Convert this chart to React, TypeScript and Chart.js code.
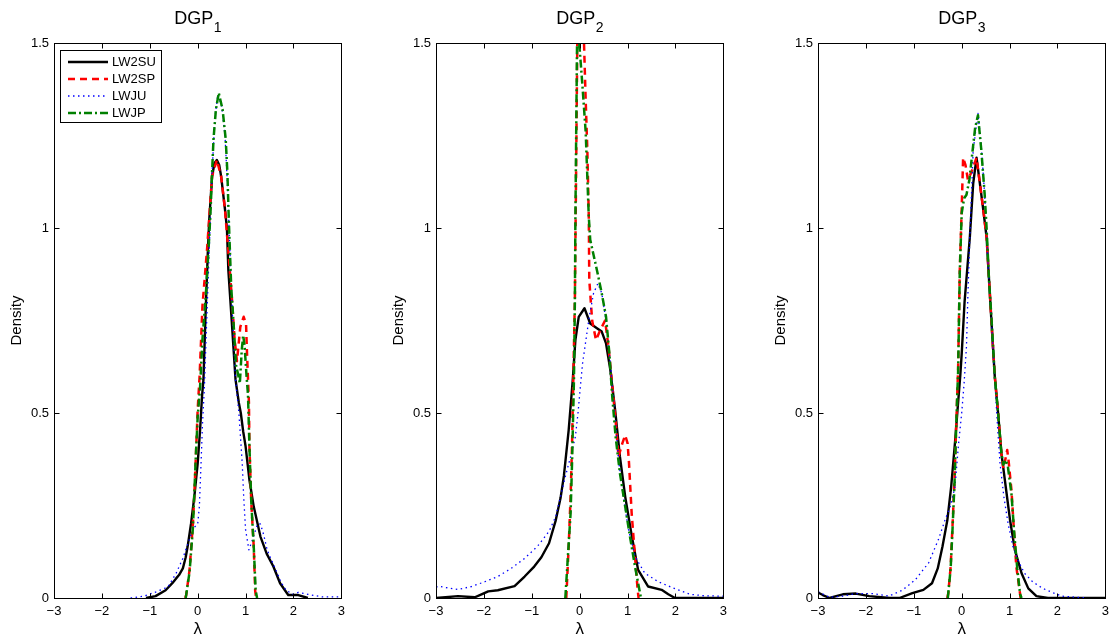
import React, { useEffect, useRef } from "react";
import { Chart, registerables } from "chart.js";

Chart.register(...registerables);

// ---------- labels / ticks ----------
const xTickValues = [-3, -2, -1, 0, 1, 2, 3];
const yTickValues = [0, 0.5, 1, 1.5];
const seriesLabels = ["LW2SU", "LW2SP", "LWJU", "LWJP"];
const titleBase = "DGP";
const panelSubscripts = ["1", "2", "3"];
const yAxisLabel = "Density";
const xAxisLabel = "λ";

// ---------- DGP 1 ----------
const dgp1_LW2SU_x = [-1.08, -0.88, -0.67, -0.53, -0.45, -0.39, -0.31, -0.25, -0.21, -0.14, -0.07, 0.0, 0.05, 0.09, 0.12, 0.16, 0.21, 0.24, 0.3, 0.35, 0.4, 0.45, 0.49, 0.57, 0.61, 0.64, 0.71, 0.79, 0.86, 0.9, 0.95, 1.0, 1.08, 1.17, 1.31, 1.44, 1.58, 1.72, 1.89, 2.1, 2.3];
const dgp1_LW2SU_y = [0, 0.005, 0.021, 0.04, 0.053, 0.062, 0.08, 0.11, 0.139, 0.2, 0.274, 0.364, 0.454, 0.544, 0.59, 0.751, 0.93, 1.02, 1.139, 1.175, 1.184, 1.17, 1.139, 1.05, 1.0, 0.886, 0.75, 0.59, 0.527, 0.5, 0.45, 0.41, 0.319, 0.247, 0.166, 0.12, 0.085, 0.04, 0.008, 0.008, 0];

const dgp1_LW2SP_x = [-0.26, -0.24, -0.17, -0.1, -0.07, -0.03, 0.0, 0.04, 0.1, 0.2, 0.3, 0.4, 0.49, 0.57, 0.65, 0.72, 0.77, 0.82, 0.89, 0.96, 1.01, 1.03, 1.07, 1.08, 1.12, 1.17, 1.2, 1.22];
const dgp1_LW2SP_y = [0, 0.008, 0.076, 0.2, 0.28, 0.41, 0.51, 0.6, 0.79, 0.95, 1.14, 1.184, 1.139, 1.05, 0.92, 0.8, 0.7, 0.64, 0.733, 0.76, 0.74, 0.66, 0.527, 0.41, 0.256, 0.139, 0.02, 0];

const dgp1_LWJU_x = [-1.4, -1.13, -0.86, -0.62, -0.45, -0.31, -0.17, -0.08, 0.0, 0.035, 0.07, 0.1, 0.14, 0.18, 0.23, 0.3, 0.36, 0.42, 0.5, 0.57, 0.62, 0.66, 0.7, 0.74, 0.79, 0.86, 0.93, 0.96, 1.0, 1.07, 1.15, 1.25, 1.31, 1.38, 1.45, 1.55, 1.65, 1.75, 1.85, 2.0, 2.1, 2.3, 2.6, 3.0];
const dgp1_LWJU_y = [0, 0.005, 0.017, 0.03, 0.067, 0.107, 0.16, 0.19, 0.2, 0.247, 0.364, 0.47, 0.57, 0.72, 0.9, 1.15, 1.3, 1.36, 1.33, 1.25, 1.12, 0.98, 0.85, 0.72, 0.59, 0.5, 0.364, 0.274, 0.184, 0.13, 0.16, 0.2, 0.2, 0.17, 0.13, 0.1, 0.07, 0.04, 0.02, 0.01, 0.015, 0.01, 0.003, 0.003];

const dgp1_LWJP_x = [-0.25, -0.17, -0.1, -0.04, 0.0, 0.05, 0.1, 0.17, 0.23, 0.27, 0.3, 0.33, 0.38, 0.44, 0.52, 0.585, 0.62, 0.65, 0.7, 0.76, 0.8, 0.85, 0.88, 0.92, 0.95, 0.98, 1.02, 1.05, 1.08, 1.12, 1.17, 1.21, 1.24];
const dgp1_LWJP_y = [0, 0.07, 0.19, 0.38, 0.49, 0.57, 0.7, 0.82, 0.95, 1.05, 1.15, 1.24, 1.32, 1.365, 1.32, 1.24, 1.15, 1.02, 0.84, 0.72, 0.63, 0.6, 0.58, 0.67, 0.71, 0.68, 0.6, 0.55, 0.41, 0.256, 0.139, 0.02, 0];

// ---------- DGP 2 ----------
const dgp2_LW2SU_x = [-3.0, -2.54, -2.19, -2.05, -1.91, -1.71, -1.36, -1.15, -0.95, -0.8, -0.64, -0.5, -0.4, -0.33, -0.23, -0.145, -0.09, -0.02, 0.1, 0.22, 0.36, 0.46, 0.55, 0.64, 0.74, 0.84, 0.95, 1.09, 1.22, 1.43, 1.71, 1.85, 1.99, 3.0];
const dgp2_LW2SU_y = [0, 0.005, 0.002, 0.01, 0.018, 0.021, 0.032, 0.058, 0.085, 0.11, 0.148, 0.21, 0.27, 0.33, 0.454, 0.589, 0.697, 0.76, 0.783, 0.742, 0.729, 0.72, 0.688, 0.616, 0.508, 0.382, 0.274, 0.166, 0.076, 0.031, 0.022, 0.01, 0, 0];

const dgp2_LW2SP_x = [-0.28, -0.23, -0.19, -0.16, -0.14, -0.12, -0.1, -0.09, -0.08, -0.05, -0.02, 0.03, 0.09, 0.125, 0.16, 0.19, 0.2, 0.26, 0.34, 0.43, 0.53, 0.6, 0.67, 0.75, 0.81, 0.89, 0.95, 1.0, 1.03, 1.085, 1.155, 1.21, 1.23];
const dgp2_LW2SP_y = [0, 0.139, 0.274, 0.41, 0.544, 0.68, 0.81, 0.95, 1.08, 1.5, 1.9, 1.78, 1.5, 1.346, 1.21, 1.03, 0.86, 0.75, 0.697, 0.724, 0.75, 0.68, 0.589, 0.48, 0.382, 0.418, 0.44, 0.418, 0.364, 0.229, 0.112, 0.022, 0];

const dgp2_LWJU_x = [-3.0, -2.92, -2.54, -2.26, -1.98, -1.71, -1.43, -1.15, -0.88, -0.64, -0.5, -0.4, -0.3, -0.19, -0.09, -0.035, 0.014, 0.06, 0.12, 0.2, 0.29, 0.38, 0.46, 0.55, 0.64, 0.74, 0.82, 0.91, 1.02, 1.155, 1.36, 1.64, 1.99, 2.3, 2.6, 3.0];
const dgp2_LWJU_y = [0.03, 0.031, 0.023, 0.031, 0.044, 0.058, 0.08, 0.107, 0.14, 0.18, 0.22, 0.274, 0.328, 0.382, 0.436, 0.5, 0.571, 0.634, 0.688, 0.76, 0.824, 0.85, 0.824, 0.75, 0.634, 0.49, 0.364, 0.274, 0.184, 0.112, 0.067, 0.044, 0.025, 0.01, 0.006, 0.005];

const dgp2_LWJP_x = [-0.3, -0.19, -0.16, -0.12, -0.1, -0.09, -0.07, -0.04, -0.01, 0.06, 0.125, 0.19, 0.22, 0.36, 0.46, 0.55, 0.62, 0.68, 0.75, 0.84, 0.95, 1.05, 1.155, 1.26, 1.28];
const dgp2_LWJP_y = [0, 0.229, 0.364, 0.589, 0.81, 1.02, 1.3, 1.7, 1.5, 1.38, 1.26, 1.03, 0.968, 0.886, 0.824, 0.76, 0.66, 0.544, 0.436, 0.337, 0.247, 0.166, 0.085, 0.013, 0];

// ---------- DGP 3 ----------
const dgp3_LW2SU_x = [-3.0, -2.9, -2.76, -2.48, -2.21, -1.93, -1.5, -1.3, -1.03, -0.8, -0.62, -0.5, -0.4, -0.3, -0.22, -0.14, -0.08, -0.03, 0.0, 0.06, 0.17, 0.24, 0.31, 0.38, 0.45, 0.52, 0.62, 0.69, 0.76, 0.83, 0.92, 1.01, 1.11, 1.25, 1.39, 1.56, 1.8, 3.0];
const dgp3_LW2SU_y = [0.015, 0.008, 0, 0.01, 0.012, 0.005, 0, 0, 0.013, 0.022, 0.04, 0.08, 0.14, 0.21, 0.3, 0.42, 0.52, 0.6, 0.66, 0.8, 0.975, 1.12, 1.19, 1.12, 1.05, 0.975, 0.75, 0.6, 0.5, 0.39, 0.3, 0.21, 0.13, 0.067, 0.026, 0.005, 0, 0];

const dgp3_LW2SP_x = [-0.3, -0.28, -0.23, -0.19, -0.15, -0.12, -0.09, -0.075, -0.04, 0.0, 0.03, 0.08, 0.13, 0.2, 0.31, 0.38, 0.45, 0.52, 0.62, 0.69, 0.76, 0.83, 0.87, 0.92, 0.95, 0.98, 1.04, 1.09, 1.14, 1.21, 1.23];
const dgp3_LW2SP_y = [0, 0.013, 0.085, 0.2, 0.319, 0.445, 0.562, 0.616, 0.886, 1.05, 1.19, 1.17, 1.13, 1.15, 1.19, 1.12, 1.05, 0.975, 0.75, 0.6, 0.5, 0.39, 0.35, 0.38, 0.4, 0.37, 0.29, 0.184, 0.085, 0.02, 0];

const dgp3_LWJU_x = [-3.0, -2.76, -2.48, -2.21, -1.86, -1.52, -1.24, -0.97, -0.69, -0.48, -0.35, -0.24, -0.14, -0.07, 0.0, 0.05, 0.1, 0.13, 0.17, 0.24, 0.34, 0.41, 0.48, 0.55, 0.62, 0.7, 0.75, 0.8, 0.88, 0.97, 1.07, 1.17, 1.31, 1.48, 1.69, 1.93, 2.1, 2.62];
const dgp3_LWJU_y = [0.017, 0.002, 0.005, 0.012, 0.012, 0.005, 0.021, 0.049, 0.095, 0.16, 0.21, 0.247, 0.3, 0.41, 0.5, 0.58, 0.68, 0.82, 0.975, 1.21, 1.31, 1.22, 1.09, 0.9, 0.75, 0.57, 0.46, 0.364, 0.274, 0.2, 0.139, 0.103, 0.067, 0.044, 0.026, 0.013, 0.005, 0];

const dgp3_LWJP_x = [-0.29, -0.23, -0.19, -0.15, -0.12, -0.09, -0.075, -0.04, 0.0, 0.05, 0.1, 0.16, 0.22, 0.28, 0.34, 0.41, 0.48, 0.52, 0.57, 0.62, 0.69, 0.76, 0.83, 0.87, 0.91, 0.96, 1.04, 1.1, 1.16, 1.22, 1.25];
const dgp3_LWJP_y = [0, 0.08, 0.19, 0.31, 0.44, 0.56, 0.61, 0.88, 1.04, 1.08, 1.09, 1.13, 1.2, 1.27, 1.305, 1.21, 1.09, 1.0, 0.86, 0.76, 0.6, 0.5, 0.39, 0.36, 0.373, 0.36, 0.28, 0.17, 0.08, 0.01, 0];

const PANELS = [
  { sub: panelSubscripts[0], xs: [dgp1_LW2SU_x, dgp1_LW2SP_x, dgp1_LWJU_x, dgp1_LWJP_x], ys: [dgp1_LW2SU_y, dgp1_LW2SP_y, dgp1_LWJU_y, dgp1_LWJP_y], legend: true },
  { sub: panelSubscripts[1], xs: [dgp2_LW2SU_x, dgp2_LW2SP_x, dgp2_LWJU_x, dgp2_LWJP_x], ys: [dgp2_LW2SU_y, dgp2_LW2SP_y, dgp2_LWJU_y, dgp2_LWJP_y], legend: false },
  { sub: panelSubscripts[2], xs: [dgp3_LW2SU_x, dgp3_LW2SP_x, dgp3_LWJU_x, dgp3_LWJP_x], ys: [dgp3_LW2SU_y, dgp3_LW2SP_y, dgp3_LWJU_y, dgp3_LWJP_y], legend: false },
];

// ---------- styles ----------
const FONT = "'Liberation Sans', Arial, Helvetica, sans-serif";
const SERIES_STYLE = [
  { color: "#000000", width: 2.4, dash: [] as number[] },
  { color: "#ff0000", width: 2.5, dash: [7, 5] },
  { color: "#0000ff", width: 1.3, dash: [1.5, 3.5] },
  { color: "#008000", width: 2.5, dash: [8, 3, 2, 3] },
];
const CANVAS_W = 351;
const CANVAS_H = 640;
const PANEL_LEFTS = [0, 382, 764];

function fmtX(v: number) {
  return v < 0 ? "\u2212" + Math.abs(v) : String(v);
}

function overlayPlugin(panelIndex: number) {
  return {
    id: "overlay" + panelIndex,
    afterDatasetsDraw(chart: any) {
      const ctx = chart.ctx as CanvasRenderingContext2D;
      const { left, right, top, bottom } = chart.chartArea;
      const xs = chart.scales.x;
      const ys = chart.scales.y;
      const panel = PANELS[panelIndex];
      ctx.save();
      // axes box
      ctx.strokeStyle = "#000";
      ctx.lineWidth = 1;
      ctx.setLineDash([]);
      const L = Math.round(left) + 0.5;
      const R = Math.round(right) + 0.5;
      const T = Math.round(top) + 0.5;
      const B = Math.round(bottom) + 0.5;
      ctx.strokeRect(L, T, R - L, B - T);
      // inward ticks
      const tl = 5;
      ctx.beginPath();
      for (const v of xTickValues) {
        const p = Math.round(xs.getPixelForValue(v)) + 0.5;
        ctx.moveTo(p, B);
        ctx.lineTo(p, B - tl);
        ctx.moveTo(p, T);
        ctx.lineTo(p, T + tl);
      }
      for (const v of yTickValues) {
        const p = Math.round(ys.getPixelForValue(v)) + 0.5;
        ctx.moveTo(L, p);
        ctx.lineTo(L + tl, p);
        ctx.moveTo(R, p);
        ctx.lineTo(R - tl, p);
      }
      ctx.stroke();

      // title with subscript
      ctx.fillStyle = "#000";
      ctx.textBaseline = "alphabetic";
      ctx.font = `18px ${FONT}`;
      const wBase = ctx.measureText(titleBase).width;
      ctx.font = `14px ${FONT}`;
      const wSub = ctx.measureText(panel.sub).width;
      const cx = (left + right) / 2;
      const startX = cx - (wBase + wSub) / 2;
      ctx.font = `18px ${FONT}`;
      ctx.textAlign = "left";
      ctx.fillText(titleBase, startX, 24);
      ctx.font = `14px ${FONT}`;
      ctx.fillText(panel.sub, startX + wBase + 0.5, 32);

      // y label
      ctx.save();
      ctx.translate(left - 37.5, (top + bottom) / 2);
      ctx.rotate(-Math.PI / 2);
      ctx.font = `15px ${FONT}`;
      ctx.textAlign = "center";
      ctx.textBaseline = "middle";
      ctx.fillText(yAxisLabel, 0, 0);
      ctx.restore();

      // x label
      ctx.font = `17px ${FONT}`;
      ctx.textAlign = "center";
      ctx.textBaseline = "alphabetic";
      ctx.fillText(xAxisLabel, cx, 634);

      // legend
      if (panel.legend) {
        const bx = left + 6;
        const by = top + 7;
        const bw = 101;
        const bh = 72;
        ctx.fillStyle = "#fff";
        ctx.fillRect(bx, by, bw, bh);
        ctx.strokeStyle = "#000";
        ctx.lineWidth = 1;
        ctx.strokeRect(Math.round(bx) + 0.5, Math.round(by) + 0.5, bw, bh);
        const rowY = [62, 79, 96, 113];
        for (let i = 0; i < seriesLabels.length; i++) {
          const st = SERIES_STYLE[i];
          ctx.strokeStyle = st.color;
          ctx.lineWidth = st.width;
          ctx.setLineDash(st.dash);
          ctx.beginPath();
          ctx.moveTo(left + 14, rowY[i]);
          ctx.lineTo(left + 54, rowY[i]);
          ctx.stroke();
          ctx.setLineDash([]);
          ctx.fillStyle = "#000";
          ctx.font = `13px ${FONT}`;
          ctx.textAlign = "left";
          ctx.textBaseline = "middle";
          ctx.fillText(seriesLabels[i], left + 58, rowY[i] + 0.5);
        }
      }
      ctx.restore();
    },
  };
}

function Panel({ index }: { index: number }) {
  const ref = useRef<HTMLCanvasElement | null>(null);
  useEffect(() => {
    const canvas = ref.current;
    if (!canvas) return;
    const panel = PANELS[index];
    const datasets = panel.xs.map((xarr, i) => ({
      label: seriesLabels[i],
      data: xarr.map((xv, k) => ({ x: xv, y: panel.ys[i][k] })),
      borderColor: SERIES_STYLE[i].color,
      backgroundColor: SERIES_STYLE[i].color,
      borderWidth: SERIES_STYLE[i].width,
      borderDash: SERIES_STYLE[i].dash,
      borderCapStyle: "butt" as const,
      borderJoinStyle: "round" as const,
      pointRadius: 0,
      pointHoverRadius: 0,
      tension: 0,
      fill: false,
      clip: 0,
      order: 3 - i,
    }));
    const chart = new Chart(canvas, {
      type: "line",
      data: { datasets },
      options: {
        animation: false,
        responsive: false,
        devicePixelRatio: 1,
        events: [],
        layout: { padding: { top: 43, right: 7, left: 0, bottom: 0 } },
        plugins: {
          legend: { display: false },
          title: { display: false },
          tooltip: { enabled: false },
        },
        scales: {
          x: {
            type: "linear",
            min: -3,
            max: 3,
            afterFit: (s: any) => {
              s.height = 42;
            },
            afterBuildTicks: (s: any) => {
              s.ticks = xTickValues.map((v) => ({ value: v }));
            },
            grid: { display: false, drawTicks: false },
            border: { display: false },
            ticks: {
              padding: 6,
              color: "#000",
              font: { size: 13, family: FONT },
              maxRotation: 0,
              autoSkip: false,
              callback: (v: any) => fmtX(Number(v)),
            },
          },
          y: {
            type: "linear",
            min: 0,
            max: 1.5,
            afterFit: (s: any) => {
              s.width = 54;
            },
            afterBuildTicks: (s: any) => {
              s.ticks = yTickValues.map((v) => ({ value: v }));
            },
            grid: { display: false, drawTicks: false },
            border: { display: false },
            ticks: {
              padding: 5,
              color: "#000",
              font: { size: 13, family: FONT },
              autoSkip: false,
              callback: (v: any) => String(Number(v)),
            },
          },
        },
      } as any,
      plugins: [overlayPlugin(index)],
    });
    return () => chart.destroy();
  }, [index]);
  return (
    <canvas
      ref={ref}
      width={CANVAS_W}
      height={CANVAS_H}
      style={{ position: "absolute", left: PANEL_LEFTS[index], top: 0, width: CANVAS_W, height: CANVAS_H }}
    />
  );
}

export default function App() {
  return (
    <div
      style={{
        position: "fixed",
        left: 0,
        top: 0,
        width: 1115,
        height: 640,
        background: "#fff",
        overflow: "hidden",
      }}
    >
      <Panel index={0} />
      <Panel index={1} />
      <Panel index={2} />
    </div>
  );
}
